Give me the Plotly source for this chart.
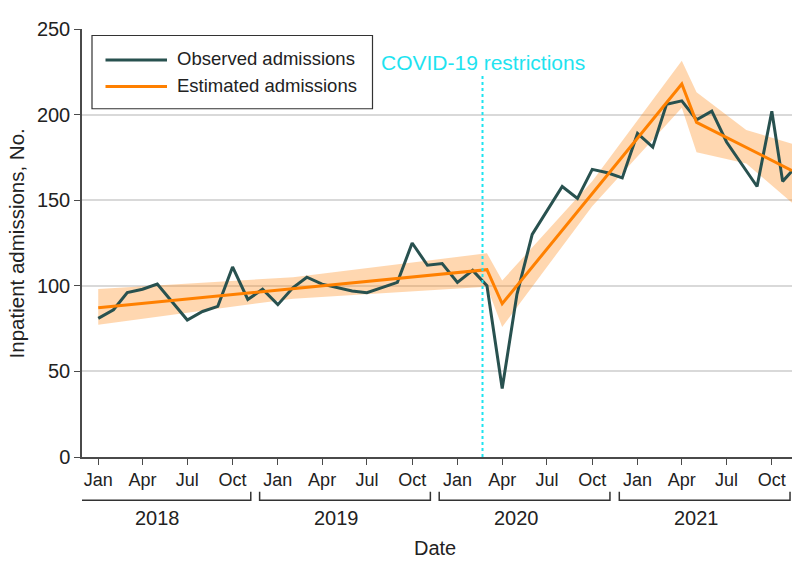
import pandas as pd
import plotly.graph_objects as go

# ---------------- data ----------------
obs_dates = [d.strftime("%Y-%m-%d") for d in pd.date_range("2018-01-01", "2021-10-01", freq="MS")] + [
    "2021-10-23", "2021-11-11"]
obs_values = [
    81, 86, 96, 98, 101, 90, 80, 85, 88, 111, 92, 98,          # 2018
    89, 99, 105, 101, 99, 97, 96, 99, 102, 125, 112, 113,      # 2019
    102, 109, 100, 40, 95, 130, 144, 158, 151, 168, 166, 163,  # 2020
    189, 181, 206, 208, 197, 202, 184, 171, 158, 202,          # 2021
    161, 167,
]

est_dates = ["2018-01-01", "2020-03-01", "2020-04-01", "2021-04-01", "2021-05-01", "2021-11-11"]
est_values = [87.2, 109.4, 89.5, 217.9, 195.5, 167.3]

band_dates = ["2018-01-01", "2019-02-01", "2020-03-01", "2020-04-01", "2020-10-01",
              "2021-04-01", "2021-05-01", "2021-08-10", "2021-11-11"]
band_low = [77.3, 92.5, 99.5, 75.9, 146.5, 204.0, 178.0, 171.5, 148.5]
band_high = [98.2, 105.0, 119.0, 103.1, 161.0, 231.5, 213.0, 191.0, 183.0]

covid_date = "2020-02-21"
covid_label = "COVID-19 restrictions"

years = [2018, 2019, 2020, 2021]
month_ticks = ["Jan", "Apr", "Jul", "Oct"]
y_ticks = [0, 50, 100, 150, 200, 250]

series_names = ["Observed admissions", "Estimated admissions"]
y_title = "Inpatient admissions, No."
x_title = "Date"

# ---------------- style ----------------
FONT = "Liberation Sans"
C_OBS = "#28514f"
C_EST = "#ff8000"
C_BAND = "rgba(255,140,30,0.35)"
C_COVID = "#1ee3f0"
C_AXIS = "#4a4a4a"

W, H = 794, 577
L, R, T, B = 82, 792, 28.5, 456.7


def px(x):
    return (x - L) / (R - L)


def py(y):
    return (B - y) / (B - T)


fig = go.Figure()

# CI band
fig.add_trace(go.Scatter(
    x=band_dates + band_dates[::-1],
    y=band_high + band_low[::-1],
    fill="toself", fillcolor=C_BAND, line=dict(width=0),
    mode="lines", hoverinfo="skip", showlegend=False))

# observed
fig.add_trace(go.Scatter(x=obs_dates, y=obs_values, mode="lines",
                         line=dict(color=C_OBS, width=3), name=series_names[0],
                         showlegend=False))
# estimated
fig.add_trace(go.Scatter(x=est_dates, y=est_values, mode="lines",
                         line=dict(color=C_EST, width=3), name=series_names[1],
                         showlegend=False))

shapes = []
annotations = []

# covid line
shapes.append(dict(type="line", xref="x", yref="y", x0=covid_date, x1=covid_date,
                   y0=0, y1=223, line=dict(color=C_COVID, width=2, dash="dot")))
annotations.append(dict(xref="x", yref="y", x=covid_date, y=230.5, text=covid_label,
                        showarrow=False, font=dict(family=FONT, size=21, color=C_COVID),
                        xanchor="center", yanchor="middle"))

# month ticks
tickvals, ticktext = [], []
for yr in years:
    for i, m in enumerate(month_ticks):
        tickvals.append(f"{yr}-{1 + 3 * i:02d}-01")
        ticktext.append(m)

# year brackets
for yr in years:
    x0 = (pd.Timestamp(f"{yr}-01-01") - pd.Timedelta(days=37)).strftime("%Y-%m-%d")
    x1 = (pd.Timestamp(f"{yr}-01-01") + pd.Timedelta(days=310)).strftime("%Y-%m-%d")
    yb, yc = py(500), py(491.5)
    shapes.append(dict(type="path", xref="x", yref="paper",
                       path=f"M {x0},{yc} L {x0},{yb} L {x1},{yb} L {x1},{yc}",
                       line=dict(color="#333333", width=1.5)))
    annotations.append(dict(xref="x", yref="paper", x=f"{yr}-05-01", y=py(517.5), text=str(yr),
                            showarrow=False, font=dict(family=FONT, size=20, color="#222"),
                            xanchor="center", yanchor="middle"))

# axis titles
annotations.append(dict(xref="paper", yref="paper", x=px(435), y=py(548), text=x_title,
                        showarrow=False, font=dict(family=FONT, size=20, color="#222"),
                        xanchor="center", yanchor="middle"))
annotations.append(dict(xref="paper", yref="paper", x=px(16), y=py(243), text=y_title,
                        textangle=-90, showarrow=False,
                        font=dict(family=FONT, size=20.5, color="#222"),
                        xanchor="center", yanchor="middle"))

# custom legend
shapes.append(dict(type="rect", xref="paper", yref="paper", x0=px(92), x1=px(372.5),
                   y0=py(108.3), y1=py(35), line=dict(color="#333", width=1.2),
                   fillcolor="white"))
for name, col, yy in [(series_names[0], C_OBS, 59.5), (series_names[1], C_EST, 86)]:
    shapes.append(dict(type="line", xref="paper", yref="paper", x0=px(105.5), x1=px(167),
                       y0=py(yy), y1=py(yy), line=dict(color=col, width=3)))
    annotations.append(dict(xref="paper", yref="paper", x=px(175), y=py(yy - 1), text=name,
                            showarrow=False, font=dict(family=FONT, size=18.5, color="#222"),
                            xanchor="left", yanchor="middle"))

fig.update_layout(
    width=W, height=H,
    margin=dict(l=L, r=W - R, t=T, b=H - B),
    paper_bgcolor="white", plot_bgcolor="white",
    shapes=shapes, annotations=annotations,
    showlegend=False,
    font=dict(family=FONT, size=18, color="#222"),
    xaxis=dict(type="date", range=["2017-11-29", "2021-11-11"],
               tickmode="array", tickvals=tickvals, ticktext=ticktext,
               ticks="outside", ticklen=6, tickwidth=1.2, tickcolor=C_AXIS,
               showline=True, linecolor=C_AXIS, linewidth=1.5,
               showgrid=False, zeroline=False,
               tickfont=dict(family=FONT, size=18, color="#222")),
    yaxis=dict(range=[0, 250], tickvals=y_ticks,
               ticks="outside", ticklen=6, tickwidth=1.2, tickcolor=C_AXIS,
               showline=True, linecolor=C_AXIS, linewidth=1.5,
               showgrid=True, gridcolor="#d9d9d9", gridwidth=1.5, zeroline=False,
               tickfont=dict(family=FONT, size=20, color="#222")),
)

fig.write_html("out.html", config={"displayModeBar": False},
               post_script="document.body.style.margin='0px';")
